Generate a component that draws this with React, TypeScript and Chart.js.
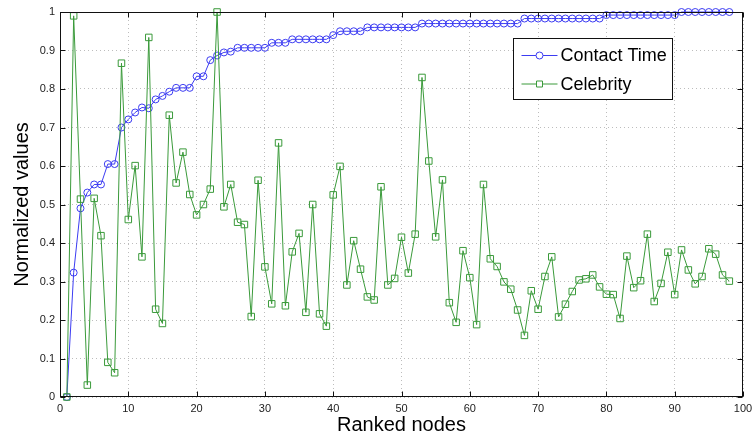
import React, { useEffect, useRef } from 'react';
import { Chart, registerables } from 'chart.js';

Chart.register(...registerables);

// ---- data ----
const ranks = [
  1, 2, 3, 4, 5, 6, 7, 8, 9, 10, 11, 12, 13, 14, 15, 16, 17, 18, 19, 20,
  21, 22, 23, 24, 25, 26, 27, 28, 29, 30, 31, 32, 33, 34, 35, 36, 37, 38, 39, 40,
  41, 42, 43, 44, 45, 46, 47, 48, 49, 50, 51, 52, 53, 54, 55, 56, 57, 58, 59, 60,
  61, 62, 63, 64, 65, 66, 67, 68, 69, 70, 71, 72, 73, 74, 75, 76, 77, 78, 79, 80,
  81, 82, 83, 84, 85, 86, 87, 88, 89, 90, 91, 92, 93, 94, 95, 96, 97, 98,
];

const contactTime = [
  0, 0.323, 0.49, 0.531, 0.552, 0.552, 0.605, 0.605, 0.7, 0.721,
  0.739, 0.752, 0.75, 0.773, 0.782, 0.793, 0.803, 0.803, 0.803, 0.833,
  0.833, 0.875, 0.887, 0.895, 0.897, 0.907, 0.907, 0.907, 0.907, 0.907,
  0.92, 0.92, 0.92, 0.929, 0.929, 0.929, 0.929, 0.929, 0.929, 0.94,
  0.95, 0.95, 0.95, 0.95, 0.96, 0.96, 0.96, 0.96, 0.96, 0.96,
  0.96, 0.96, 0.97, 0.97, 0.97, 0.97, 0.97, 0.97, 0.97, 0.97,
  0.97, 0.97, 0.97, 0.97, 0.97, 0.97, 0.97, 0.983, 0.983, 0.983,
  0.983, 0.983, 0.983, 0.983, 0.983, 0.983, 0.983, 0.983, 0.983, 0.992,
  0.992, 0.992, 0.992, 0.992, 0.992, 0.992, 0.992, 0.992, 0.992, 0.992,
  1, 1, 1, 1, 1, 1, 1, 1,
];

const celebrity = [
  0, 0.99, 0.514, 0.031, 0.516, 0.419, 0.09, 0.063, 0.867, 0.461,
  0.601, 0.364, 0.934, 0.228, 0.191, 0.732, 0.556, 0.636, 0.526, 0.473,
  0.5, 0.54, 1.0, 0.494, 0.552, 0.454, 0.448, 0.209, 0.563, 0.338,
  0.242, 0.66, 0.237, 0.377, 0.425, 0.22, 0.5, 0.216, 0.184, 0.525,
  0.599, 0.291, 0.406, 0.332, 0.26, 0.252, 0.546, 0.291, 0.308, 0.415,
  0.322, 0.423, 0.83, 0.613, 0.416, 0.564, 0.245, 0.194, 0.38, 0.31,
  0.188, 0.552, 0.359, 0.339, 0.299, 0.28, 0.226, 0.16, 0.276, 0.228,
  0.313, 0.364, 0.208, 0.241, 0.274, 0.304, 0.307, 0.317, 0.286, 0.267,
  0.266, 0.204, 0.366, 0.284, 0.302, 0.423, 0.248, 0.295, 0.376, 0.266,
  0.382, 0.33, 0.294, 0.313, 0.385, 0.371, 0.317, 0.301,
];

const seriesNames = ['Contact Time', 'Celebrity'];
const xTicks = [0, 10, 20, 30, 40, 50, 60, 70, 80, 90, 100];
const xTickLabels = ['0', '10', '20', '30', '40', '50', '60', '70', '80', '90', '100'];
const yTicks = [0, 0.1, 0.2, 0.3, 0.4, 0.5, 0.6, 0.7, 0.8, 0.9, 1];
const yTickLabels = ['0', '0.1', '0.2', '0.3', '0.4', '0.5', '0.6', '0.7', '0.8', '0.9', '1'];
const xTitle = 'Ranked nodes';
const yTitle = 'Normalized values';

const FONT = '"Liberation Sans", Arial, Helvetica, sans-serif';
const BLUE = '#3c3cf2';
const GREEN = '#3a9a3a';

const framePlugin = {
  id: 'frame',
  afterDatasetsDraw(chart: any) {
    const { ctx, chartArea: a, scales } = chart;
    const L = Math.round(a.left) + 0.5;
    const R = Math.round(a.right) - 0.5;
    const T = Math.round(a.top) + 0.5;
    const B = Math.round(a.bottom) - 0.5;
    ctx.save();
    ctx.setLineDash([]);
    ctx.strokeStyle = '#111';
    ctx.lineWidth = 1;
    ctx.strokeRect(L, T, R - L, B - T);
    const tl = 5;
    ctx.beginPath();
    xTicks.forEach((v) => {
      const px = Math.round(scales.x.getPixelForValue(v)) + 0.5;
      ctx.moveTo(px, B);
      ctx.lineTo(px, B - tl);
      ctx.moveTo(px, T);
      ctx.lineTo(px, T + tl);
    });
    yTicks.forEach((v) => {
      const py = Math.round(scales.y.getPixelForValue(v)) + 0.5;
      ctx.moveTo(L, py);
      ctx.lineTo(L + tl, py);
      ctx.moveTo(R, py);
      ctx.lineTo(R - tl, py);
    });
    ctx.stroke();
    ctx.restore();
  },
};

const legendPlugin = {
  id: 'boxLegend',
  afterDraw(chart: any) {
    const { ctx, chartArea: a } = chart;
    const w = 159;
    const h = 61;
    const x0 = Math.round(a.right - 71 - w) + 0.5;
    const y0 = Math.round(a.top + 26) + 0.5;
    ctx.save();
    ctx.fillStyle = '#fff';
    ctx.fillRect(x0, y0, w, h);
    ctx.strokeStyle = '#111';
    ctx.lineWidth = 1;
    ctx.setLineDash([]);
    ctx.strokeRect(x0, y0, w, h);
    chart.data.datasets.forEach((ds: any, i: number) => {
      const cy = y0 + 17 + i * 28.5;
      const lx1 = x0 + 8;
      const lx2 = x0 + 44;
      const mx = (lx1 + lx2) / 2;
      ctx.strokeStyle = ds.borderColor;
      ctx.lineWidth = 1;
      ctx.beginPath();
      ctx.moveTo(lx1, cy);
      ctx.lineTo(lx2, cy);
      ctx.stroke();
      ctx.beginPath();
      if (ds.pointStyle === 'rect') {
        ctx.rect(mx - 3, cy - 3, 6, 6);
      } else {
        ctx.arc(mx, cy, 3.5, 0, Math.PI * 2);
      }
      ctx.fillStyle = '#fff';
      ctx.fill();
      ctx.stroke();
      ctx.fillStyle = '#000';
      ctx.font = `18px ${FONT}`;
      ctx.textBaseline = 'middle';
      ctx.textAlign = 'left';
      ctx.fillText(ds.label, x0 + 47, cy + 1);
    });
    ctx.restore();
  },
};

export default function App() {
  const canvasRef = useRef<HTMLCanvasElement | null>(null);

  useEffect(() => {
    document.body.style.margin = '0';
    const canvas = canvasRef.current;
    if (!canvas) return;
    const chart = new Chart(canvas, {
      type: 'line',
      data: {
        datasets: [
          {
            label: seriesNames[0],
            data: ranks.map((r, i) => ({ x: r, y: contactTime[i] })),
            borderColor: BLUE,
            borderWidth: 1,
            pointStyle: 'circle',
            pointRadius: 3.5,
            pointBorderWidth: 1,
            pointBackgroundColor: 'rgba(0,0,0,0)',
            pointBorderColor: BLUE,
            tension: 0,
            fill: false,
            clip: false,
            order: 2,
          },
          {
            label: seriesNames[1],
            data: ranks.map((r, i) => ({ x: r, y: celebrity[i] })),
            borderColor: GREEN,
            borderWidth: 1,
            pointStyle: 'rect',
            pointRadius: 4.6,
            pointBorderWidth: 1,
            pointBackgroundColor: 'rgba(0,0,0,0)',
            pointBorderColor: GREEN,
            tension: 0,
            fill: false,
            clip: false,
            order: 1,
          },
        ],
      },
      options: {
        responsive: false,
        maintainAspectRatio: false,
        animation: false,
        events: [],
        layout: { padding: { left: 0, top: 12, right: 9, bottom: 0 } },
        plugins: {
          legend: { display: false },
          tooltip: { enabled: false },
        },
        scales: {
          x: {
            type: 'linear',
            min: 0,
            max: 100,
            afterBuildTicks: (scale: any) => {
              scale.ticks = xTicks.map((v) => ({ value: v }));
            },
            afterFit: (scale: any) => {
              scale.height = 44;
              scale.paddingLeft = 0;
              scale.paddingRight = 0;
            },
            grid: {
              color: '#bdbdbd',
              lineWidth: 1,
              drawTicks: false,
            },
            border: { display: false, dash: [1, 3] },
            ticks: {
              autoSkip: false,
              maxRotation: 0,
              padding: 5,
              color: '#222',
              font: { family: FONT, size: 11 },
              callback: (_v: any, i: number) => xTickLabels[i],
            },
            title: {
              display: true,
              text: xTitle,
              color: '#000',
              font: { family: FONT, size: 20 },
              padding: { top: 0, bottom: 4 },
            },
          },
          y: {
            type: 'linear',
            min: 0,
            max: 1,
            afterBuildTicks: (scale: any) => {
              scale.ticks = yTicks.map((v) => ({ value: v }));
            },
            afterFit: (scale: any) => {
              scale.width = 60;
              scale.paddingTop = 0;
              scale.paddingBottom = 0;
            },
            grid: {
              color: '#bdbdbd',
              lineWidth: 1,
              drawTicks: false,
            },
            border: { display: false, dash: [1, 3] },
            ticks: {
              autoSkip: false,
              padding: 5,
              color: '#222',
              font: { family: FONT, size: 11 },
              callback: (_v: any, i: number) => yTickLabels[i],
            },
            title: {
              display: true,
              text: yTitle,
              color: '#000',
              font: { family: FONT, size: 20 },
              padding: { top: 10, bottom: 0 },
            },
          },
        },
      } as any,
      plugins: [framePlugin, legendPlugin],
    });
    return () => chart.destroy();
  }, []);

  return (
    <div style={{ width: 752, height: 441, background: '#fff' }}>
      <canvas ref={canvasRef} width={752} height={441} style={{ display: 'block' }} />
    </div>
  );
}
